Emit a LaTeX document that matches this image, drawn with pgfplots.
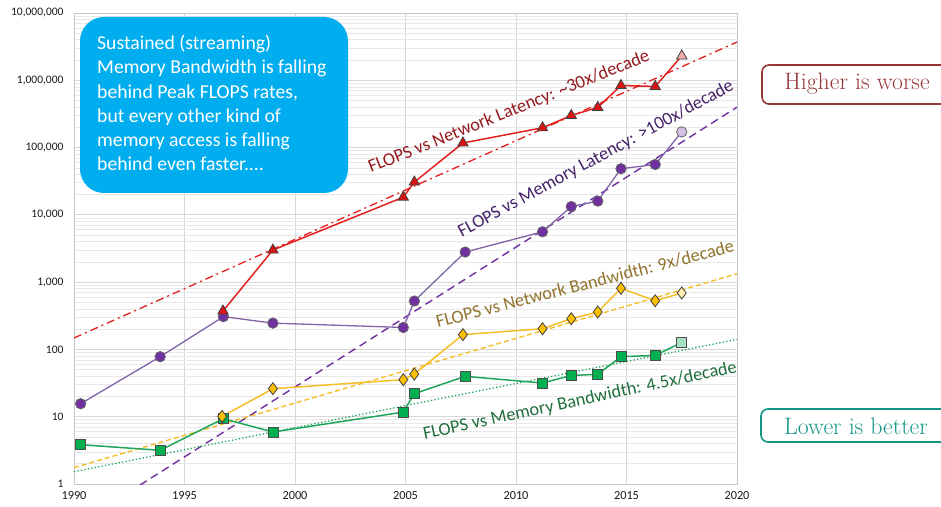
\documentclass[border=0pt]{standalone}
\usepackage{pgfplots}
\pgfplotsset{compat=1.18}
\usepackage{fontspec}
\newfontfamily\calibri{Carlito}

\definecolor{nlline}{RGB}{226,32,32}
\definecolor{nlmark}{RGB}{218,20,20}
\definecolor{nltext}{RGB}{150,25,30}
\definecolor{mlline}{RGB}{128,100,170}
\definecolor{mlmark}{RGB}{112,48,160}
\definecolor{mltext}{RGB}{70,35,105}
\definecolor{nbline}{RGB}{245,190,40}
\definecolor{nbmark}{RGB}{255,192,0}
\definecolor{nbtext}{RGB}{145,115,45}
\definecolor{mbline}{RGB}{30,165,90}
\definecolor{mbmark}{RGB}{0,176,80}
\definecolor{mbtext}{RGB}{30,110,60}
\definecolor{callout}{RGB}{0,174,239}
\definecolor{worse}{RGB}{150,55,55}
\definecolor{better}{RGB}{20,150,135}

\begin{document}
\begin{tikzpicture}[x=1pt,y=1pt]
\path[use as bounding box, clip] (0,0) rectangle (941,506);
\begin{axis}[
  at={(74pt,22pt)}, anchor=south west,
  width=663pt, height=471pt, scale only axis,
  xmin=1990, xmax=2020, ymin=1, ymax=1e7,
  ymode=log,
  xtick={1990,1995,2000,2005,2010,2015,2020},
  xticklabels={1990,1995,2000,2005,2010,2015,2020},
  ytick={1,10,100,1000,1e4,1e5,1e6,1e7},
  yticklabels={1,10,100,{1,000},{10,000},{100,000},{1,000,000},{10,000,000}},
  minor ytick={2,3,4,5,6,7,8,9,
    20,30,40,50,60,70,80,90,
    200,300,400,500,600,700,800,900,
    2e3,3e3,4e3,5e3,6e3,7e3,8e3,9e3,
    2e4,3e4,4e4,5e4,6e4,7e4,8e4,9e4,
    2e5,3e5,4e5,5e5,6e5,7e5,8e5,9e5,
    2e6,3e6,4e6,5e6,6e6,7e6,8e6,9e6},
  major tick length=0pt, minor tick length=0pt,
  xmajorgrids=true, ymajorgrids=true, yminorgrids=true,
  major grid style={draw=black!16, line width=0.8pt},
  minor grid style={draw=black!9, line width=0.6pt},
  axis line style={draw=black!22, line width=0.8pt},
  /pgf/number format/assume math mode=true,
  yticklabel style={font=\calibri\fontsize{11.5}{12}\selectfont, text=black!90, xshift=-7pt},
  xticklabel style={font=\calibri\fontsize{12.3}{13}\selectfont, text=black!90, yshift=-4pt},
  clip=true,
]

% trend lines
\addplot[nlline, line width=1.3pt, dash pattern=on 8pt off 4pt on 2pt off 4pt] coordinates {(1990,148)(2020,3700000)};
\addplot[mlmark, line width=1.4pt, dash pattern=on 8pt off 5pt] coordinates {(1990,0.231)(2020,398000)};
\addplot[nbline, line width=1.4pt, dash pattern=on 5pt off 3pt] coordinates {(1990,1.75)(2020,1333)};
\addplot[mbline, line width=1.3pt, dash pattern=on 1.3pt off 2.2pt] coordinates {(1990,1.52)(2020,141)};

% FLOPS vs memory bandwidth
\addplot[mbline, line width=1.5pt, mark=square*, mark size=5pt,
  mark options={solid, fill=mbmark, draw=black!70, line width=0.8pt}] coordinates {
  (1990.3,3.84)(1993.9,3.17)(1996.76,9.34)(1999,5.93)(2004.9,11.7)(2005.4,22)
  (2007.7,39.8)(2011.2,31.7)(2012.5,41)(2013.7,42.7)(2014.75,78)(2016.3,81.5)};
\addplot[mbline, line width=1.5pt] coordinates {(2016.3,81.5)(2017.5,127)};
\addplot[only marks, mark=square*, mark size=5pt,
  mark options={fill=mbmark!35, draw=black!70, line width=0.8pt}] coordinates {(2017.5,127)};

% FLOPS vs network bandwidth
\addplot[nbline, line width=1.5pt, mark=diamond*, mark size=6pt,
  mark options={solid, fill=nbmark, draw=black!75, line width=0.8pt}] coordinates {
  (1996.7,10.1)(1999,26.1)(2004.9,35.5)(2005.4,43)(2007.6,166)(2011.2,203)
  (2012.5,286)(2013.7,360)(2014.75,810)(2016.3,529)};
\addplot[nbline, line width=1.5pt] coordinates {(2016.3,529)(2017.5,690)};
\addplot[only marks, mark=diamond*, mark size=6pt,
  mark options={fill=nbmark!30, draw=black!75, line width=0.8pt}] coordinates {(2017.5,690)};

% FLOPS vs memory latency
\addplot[mlline, line width=1.3pt, mark=*, mark size=5.2pt,
  mark options={solid, fill=mlmark, draw=black!60, line width=0.8pt}] coordinates {
  (1990.3,15.6)(1993.9,78)(1996.76,307)(1999,246)(2004.9,212)(2005.4,524)
  (2007.7,2800)(2011.2,5600)(2012.5,13300)(2013.7,16000)(2014.75,48500)(2016.3,56000)};
\addplot[mlline, line width=1.3pt] coordinates {(2016.3,56000)(2017.5,171000)};
\addplot[only marks, mark=*, mark size=5.2pt,
  mark options={fill=mlmark!30, draw=black!60, line width=0.8pt}] coordinates {(2017.5,171000)};

% FLOPS vs network latency
\addplot[nlline, line width=1.5pt, mark=triangle*, mark size=6pt,
  mark options={solid, fill=nlmark, draw=black!75, line width=0.8pt}] coordinates {
  (1996.74,372)(1999.0,3000)(2004.9,18300)(2005.4,30700)(2007.6,117000)(2011.2,197000)
  (2012.5,300000)(2013.7,395000)(2014.75,836000)(2016.3,810000)};
\addplot[nlline, line width=1.5pt] coordinates {(2016.3,810000)(2017.5,2300000)};
\addplot[only marks, mark=triangle*, mark size=6pt,
  mark options={fill=nlmark!35, draw=black!75, line width=0.8pt}] coordinates {(2017.5,2300000)};
\end{axis}

% series labels
\begin{scope}[font=\calibri\fontsize{18.3}{20}\selectfont]
\node[nltext, rotate=22] at (509,{506-112}) {FLOPS vs Network Latency: \textasciitilde30x/decade};
\node[mltext, rotate=28.5] at (596,{506-159}) {FLOPS vs Memory Latency: >100x/decade};
\node[nbtext, rotate=14.4] at (585,{506-284}) {FLOPS vs Network Bandwidth: 9x/decade};
\node[mbtext, rotate=12.1] at (580,{506-401}) {FLOPS vs Memory Bandwidth: 4.5x/decade};
\end{scope}

% callout
\fill[callout, rounded corners=24pt] (80,{506-193}) rectangle (348,{506-17});
\node[anchor=north west, inner sep=0pt, align=left, text=white,
  font=\calibri\fontsize{19.7}{24.2}\selectfont] at (97,{506-35}) {Sustained (streaming)\\
Memory Bandwidth is falling\\ behind Peak FLOPS rates,\\ but every other kind of\\
memory access is falling\\ behind even faster....};

% side boxes
\draw[worse, line width=1.6pt, rounded corners=7pt] (762,{506-65}) rectangle (950,{506-104});
\node[worse, font=\fontsize{23.8}{26}\selectfont] at (857,{506-84}) {Higher is worse};
\draw[better, line width=1.6pt, rounded corners=7pt] (761,{506-409}) rectangle (950,{506-442});
\node[better, font=\fontsize{23.8}{26}\selectfont] at (856,{506-426}) {Lower is better};
\end{tikzpicture}
\end{document}
